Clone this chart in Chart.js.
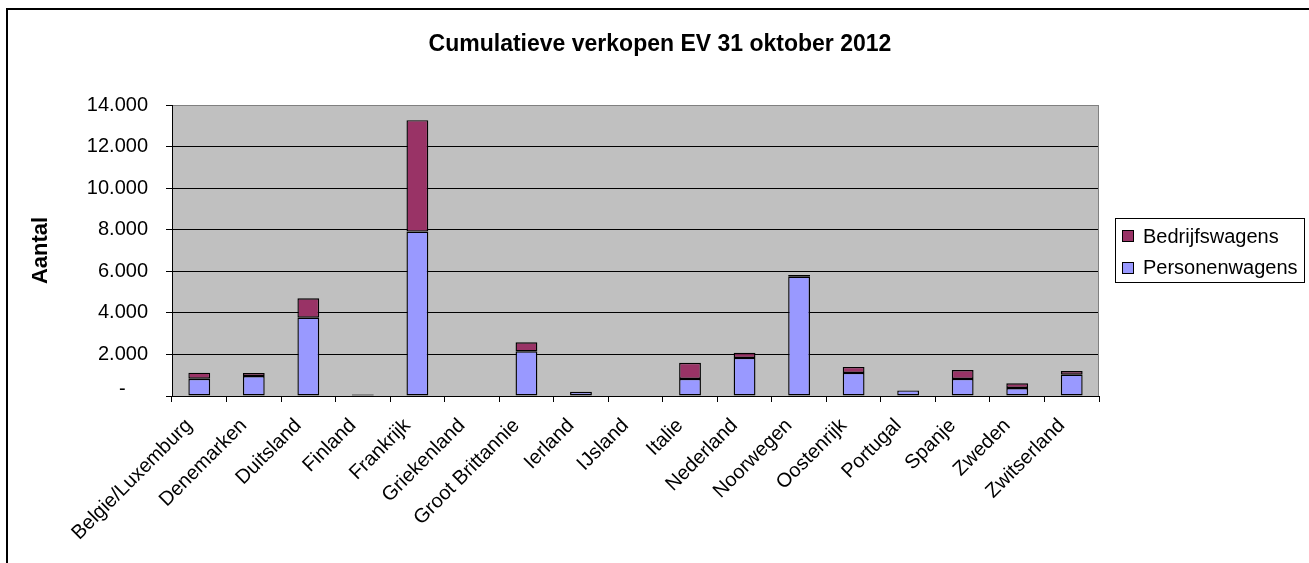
<!DOCTYPE html>
<html>
<head>
<meta charset="utf-8">
<script src="https://cdn.jsdelivr.net/npm/chart.js@4/dist/chart.umd.min.js"></script>
<style>
  html, body { margin: 0; padding: 0; background: #ffffff; }
  #wrap { position: relative; width: 1309px; height: 563px; }
  canvas { display: block; }
</style>
</head>
<body>
<div id="wrap"><canvas id="c" width="1309" height="563"></canvas></div>
<script>
const chartTitle = 'Cumulatieve verkopen EV 31 oktober 2012';
const yAxisTitle = 'Aantal';
const categories = ['Belgie/Luxemburg', 'Denemarken', 'Duitsland', 'Finland', 'Frankrijk', 'Griekenland', 'Groot Brittannie', 'Ierland', 'IJsland', 'Italie', 'Nederland', 'Noorwegen', 'Oostenrijk', 'Portugal', 'Spanje', 'Zweden', 'Zwitserland'];
const seriesNames = ['Personenwagens', 'Bedrijfswagens'];
const personenwagens = [830, 960, 3770, 60, 7910, 0, 2150, 200, 0, 820, 1830, 5740, 1110, 270, 820, 385, 1025];
const bedrijfswagens = [290, 150, 930, 30, 5360, 0, 430, 10, 0, 780, 250, 80, 290, 0, 430, 225, 175];
const yMin = 0, yMax = 14000, yStep = 2000;

const FONT = "'Liberation Sans', Arial, sans-serif";

function fmt(v) {
  if (v === 0) return ['-    ', ''];
  return String(v).replace(/\B(?=(\d{3})+(?!\d))/g, '.');
}

const decor = {
  id: 'decor',
  beforeDraw(chart) {
    const { ctx, chartArea: a } = chart;
    ctx.save();
    ctx.fillStyle = '#ffffff';
    ctx.fillRect(0, 0, chart.width, chart.height);
    ctx.fillStyle = '#c0c0c0';
    ctx.fillRect(a.left, a.top, a.right - a.left, a.bottom - a.top);
    ctx.restore();
  },
  afterDraw(chart) {
    const { ctx, chartArea: a } = chart;
    ctx.save();
    ctx.strokeStyle = '#808080';
    ctx.lineWidth = 1;
    ctx.beginPath();
    ctx.moveTo(Math.round(a.right) - 0.5, a.top);
    ctx.lineTo(Math.round(a.right) - 0.5, a.bottom);
    ctx.stroke();
    ctx.fillStyle = '#000000';
    ctx.fillRect(6, 8, 2, chart.height - 8);
    ctx.fillRect(6, 8, chart.width - 6, 2);
    ctx.fillStyle = '#000000';
    ctx.font = 'bold 23px ' + FONT;
    ctx.textAlign = 'center';
    ctx.textBaseline = 'alphabetic';
    ctx.fillText(chartTitle, 660, 51);
    const lx = 1115.5, ly = 218.5, lw = 189, lh = 64;
    ctx.strokeStyle = '#000000';
    ctx.lineWidth = 1;
    ctx.strokeRect(lx, ly, lw, lh);
    const ds = chart.data.datasets.slice().reverse();
    ctx.font = '20px ' + FONT;
    ctx.textAlign = 'left';
    ctx.textBaseline = 'middle';
    ds.forEach((d, i) => {
      const cy = 236 + i * 31.7;
      ctx.fillStyle = d.backgroundColor;
      ctx.fillRect(1122, Math.round(cy) - 6, 12, 12);
      ctx.strokeStyle = '#000000';
      ctx.strokeRect(1122.5, Math.round(cy) - 5.5, 11, 11);
      ctx.fillStyle = '#000000';
      ctx.fillText(d.label, 1143, cy + 1);
    });
    ctx.restore();
  }
};

new Chart(document.getElementById('c'), {
  type: 'bar',
  data: {
    labels: categories,
    datasets: [
      {
        label: seriesNames[0],
        data: personenwagens,
        backgroundColor: '#9999ff',
        borderColor: '#000000',
        borderWidth: 1.4,
        borderSkipped: false,
        inflateAmount: 0,
        barPercentage: 0.4,
        categoryPercentage: 1.0
      },
      {
        label: seriesNames[1],
        data: bedrijfswagens,
        backgroundColor: '#993366',
        borderColor: '#000000',
        borderWidth: 1.4,
        borderSkipped: false,
        inflateAmount: 0,
        barPercentage: 0.4,
        categoryPercentage: 1.0
      }
    ]
  },
  options: {
    responsive: false,
    animation: false,
    layout: { padding: { left: 10, top: 105, right: 210, bottom: 0 } },
    plugins: {
      legend: { display: false },
      title: { display: false },
      tooltip: { enabled: false }
    },
    scales: {
      x: {
        stacked: true,
        afterFit(scale) { scale.height = 167; },
        grid: {
          display: true,
          drawOnChartArea: false,
          drawTicks: true,
          tickLength: 6,
          offset: true,
          color: '#000000',
          tickColor: '#000000'
        },
        border: { display: true, color: '#000000', width: 1 },
        ticks: {
          autoSkip: false,
          minRotation: 45,
          maxRotation: 45,
          padding: 12,
          labelOffset: -10,
          color: '#000000',
          font: { family: FONT, size: 20 }
        }
      },
      y: {
        stacked: true,
        min: yMin,
        max: yMax,
        afterFit(scale) { scale.width = 162; },
        grid: {
          color: (ctx) => (ctx.tick && ctx.tick.value === yMax) ? '#808080' : '#000000',
          tickColor: '#000000',
          tickLength: 6,
          lineWidth: 1
        },
        border: { display: true, color: '#000000', width: 1 },
        ticks: {
          stepSize: yStep,
          padding: 18,
          color: '#000000',
          font: (ctx) => (ctx.tick && ctx.tick.value === 0)
            ? { family: FONT, size: 20, lineHeight: 0.7 }
            : { family: FONT, size: 20 },
          callback: (v) => fmt(v)
        },
        title: {
          display: true,
          text: yAxisTitle,
          color: '#000000',
          font: { family: FONT, size: 22, weight: 'bold' },
          padding: { top: 18, bottom: 0 }
        }
      }
    }
  },
  plugins: [decor]
});
</script>
</body>
</html>
